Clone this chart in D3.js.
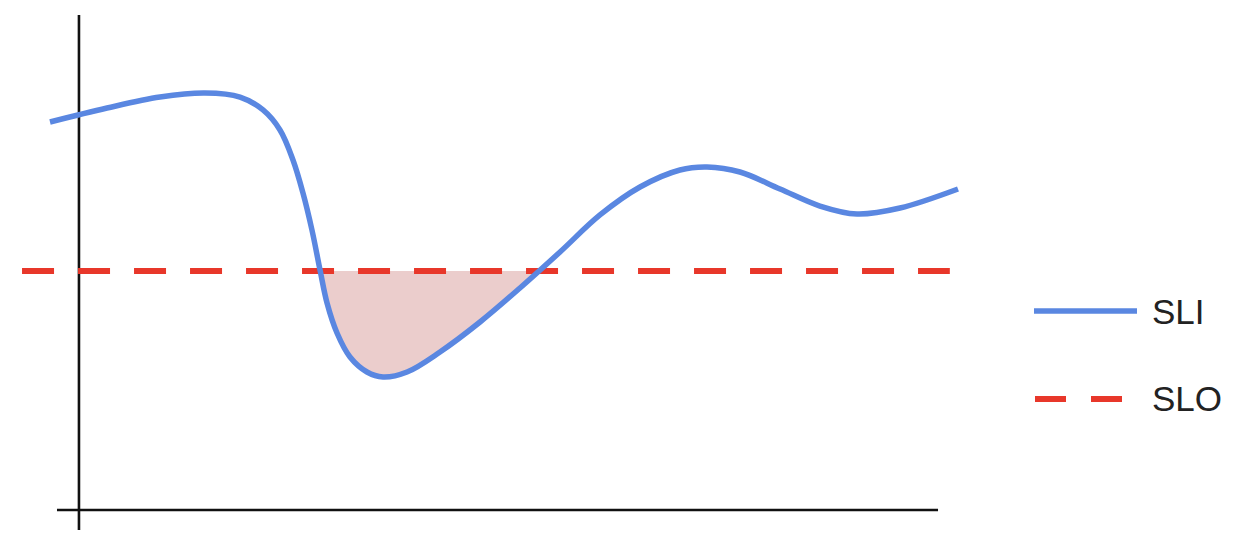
<!DOCTYPE html>
<html>
<head>
<meta charset="utf-8">
<script src="https://cdn.jsdelivr.net/npm/d3@7"></script>
<style>
  html, body { margin: 0; padding: 0; background: #fff; }
  svg { display: block; }
</style>
</head>
<body>
<svg id="chart" width="1246" height="550"></svg>
<script>
// ---- Data ----
const sliX = [0, 6.28, 12.11, 17.07, 20.93, 23.46, 25.33, 26.76, 27.86, 28.85, 29.74, 30.51, 31.61, 33.04, 34.91, 36.67, 39.32, 42.95, 47.36, 51.76, 56.17, 60.57, 64.98, 69.38, 72.36, 75.99, 80.40, 84.80, 88.88, 93.61, 100];
const sliY = [78.38, 81.21, 83.43, 84.24, 83.43, 80.81, 76.77, 70.71, 64.04, 56.57, 48.48, 41.82, 35.76, 30.91, 27.88, 26.87, 27.88, 31.92, 37.98, 44.85, 52.12, 59.60, 65.25, 68.69, 69.29, 68.28, 64.85, 61.41, 59.80, 61.01, 64.85];
const sloValue = 48.3;
const sloExtent = [-3.08, 99.1];
const xAxisExtent = [0.77, 97.8];
const yAxisExtent = [-4.04, 100];
const yAxisAt = 3.19;
const legendLabels = ["SLI", "SLO"];

// ---- Scales ----
const x = d3.scaleLinear().domain([0, 100]).range([50, 958]);
const y = d3.scaleLinear().domain([0, 100]).range([510, 15]);

const svg = d3.select("#chart");
const data = sliX.map((v, i) => ({ x: v, y: sliY[i] }));

const blue = "#5a87e1";
const red = "#e8372a";
const fillCol = "#ebcdcc";

svg.append("defs").append("clipPath").attr("id", "below")
  .append("rect")
  .attr("x", 0).attr("y", y(sloValue))
  .attr("width", 1246).attr("height", 550 - y(sloValue));

const curve = d3.curveCatmullRom.alpha(0.5);

const area = d3.area()
  .x(d => x(d.x))
  .y0(y(sloValue))
  .y1(d => y(d.y))
  .curve(curve);

svg.append("path")
  .datum(data)
  .attr("d", area)
  .attr("fill", fillCol)
  .attr("clip-path", "url(#below)");

// axes
svg.append("line")
  .attr("x1", x(yAxisAt)).attr("x2", x(yAxisAt))
  .attr("y1", y(yAxisExtent[0])).attr("y2", y(yAxisExtent[1]))
  .attr("stroke", "#111").attr("stroke-width", 2.6);
svg.append("line")
  .attr("x1", x(xAxisExtent[0])).attr("x2", x(xAxisExtent[1]))
  .attr("y1", y(0)).attr("y2", y(0))
  .attr("stroke", "#111").attr("stroke-width", 2.6);

// SLO line
svg.append("line")
  .attr("x1", x(sloExtent[0])).attr("x2", x(sloExtent[1]))
  .attr("y1", y(sloValue)).attr("y2", y(sloValue))
  .attr("stroke", red).attr("stroke-width", 6)
  .attr("stroke-dasharray", "32,24");

// SLI line
const line = d3.line().x(d => x(d.x)).y(d => y(d.y)).curve(curve);
svg.append("path")
  .datum(data)
  .attr("d", line)
  .attr("fill", "none")
  .attr("stroke", blue)
  .attr("stroke-width", 5.5)
  .attr("stroke-linejoin", "round");

// legend
const lg = svg.append("g");
lg.append("line")
  .attr("x1", 1034).attr("x2", 1137).attr("y1", 311).attr("y2", 311)
  .attr("stroke", blue).attr("stroke-width", 5.5);
lg.append("text").attr("x", 1152).attr("y", 324).text(legendLabels[0])
  .attr("font-family", "'Liberation Sans', Arial, Helvetica, sans-serif")
  .attr("font-size", 35).attr("fill", "#222");
lg.append("line")
  .attr("x1", 1035).attr("x2", 1122).attr("y1", 399).attr("y2", 399)
  .attr("stroke", red).attr("stroke-width", 6)
  .attr("stroke-dasharray", "31,25");
lg.append("text").attr("x", 1152).attr("y", 411).text(legendLabels[1])
  .attr("font-family", "'Liberation Sans', Arial, Helvetica, sans-serif")
  .attr("font-size", 35).attr("fill", "#222");
</script>
</body>
</html>
